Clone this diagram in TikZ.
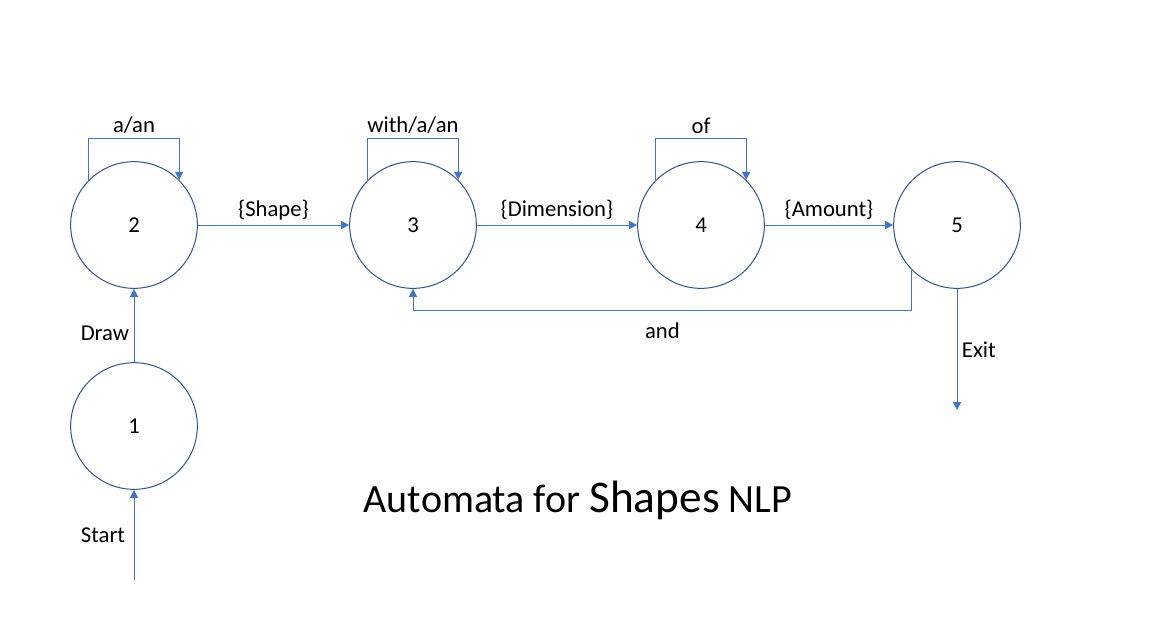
\documentclass[tikz,border=0pt]{standalone}
\usepackage{fontspec}
\setmainfont{Carlito}
\usetikzlibrary{arrows.meta}
\definecolor{lineblue}{HTML}{4472C4}
\definecolor{ringblue}{HTML}{2F528F}
\begin{document}
\begin{tikzpicture}[x=0.75pt, y=-0.75pt, font=\fontsize{17}{20}\selectfont,
  state/.style={draw=ringblue, line width=0.75pt, circle, minimum size=95pt, inner sep=0pt},
  edge/.style={draw=lineblue, line width=0.75pt, -{Triangle[width=6pt,length=6pt]}}]
\useasboundingbox (0,0) rectangle (1149,629);
\node[state] (S_1) at (134,426) {1};
\node[state] (S_2) at (134,225) {2};
\node[state] (S_3) at (413,225) {3};
\node[state] (S_4) at (701,225) {4};
\node[state] (S_5) at (957,225) {5};
\coordinate (S_in) at (134,580);
\coordinate (S_out) at (957,410);
\draw[edge] (S_in) -- (S_1) node[midway, left=3pt] (L_start) {Start};
\draw[edge] (S_1) -- (S_2) node[pos=0.4, left] (L_draw) {Draw};
\draw[edge] (S_2) -- (S_3) node[midway, above] (L_shape) {\{Shape\}};
\draw[edge] (S_3) -- (S_4) node[midway, above] (L_dim) {\{Dimension\}};
\draw[edge] (S_4) -- (S_5) node[midway, above] (L_amount) {\{Amount\}};
\draw[edge] (S_2.135) -- ++(0,-41) -| node[pos=0.25, above] (L_aan) {a/an} (S_2.45);
\draw[edge] (S_3.135) -- ++(0,-41) -| node[pos=0.25, above] (L_with) {with/a/an} (S_3.45);
\draw[edge] (S_4.135) -- ++(0,-41) -| node[pos=0.25, above] (L_of) {of} (S_4.45);
\draw[edge] (S_5.225) -- ++(0,40) -| node[pos=0.25, below=6pt] (L_and) {and} (S_3.south);
\draw[edge] (S_5) -- (S_out) node[midway, right] (L_exit) {Exit};
\node (T) at (578,500) {\fontsize{30}{36}\selectfont Automata for {\fontsize{34}{40}\selectfont Shapes} NLP};
\end{tikzpicture}
\end{document}
